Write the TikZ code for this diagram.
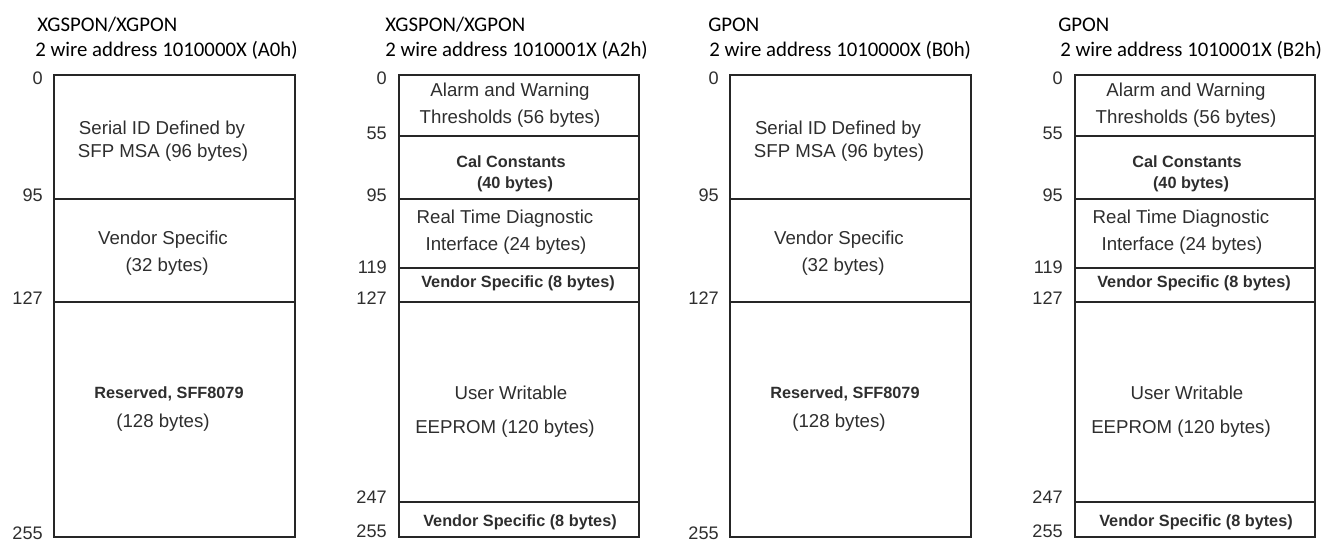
\documentclass[tikz,border=0pt]{standalone}
\usepackage{fontspec}
\setmainfont{Liberation Sans}
\newfontfamily\titlefont{Carlito}
\usepackage{tikz}

\tikzset{
  mapbox/.style={draw=black!85,line width=1.4pt},
  field/.style={inner sep=0pt,text=black!82,text height=0.72em,text depth=0pt,
    yshift=-1.5pt,font=\fontsize{14}{16}\selectfont},
  boldfield/.style={field,font=\bfseries\fontsize{12.2}{14}\selectfont},
  offset/.style={anchor=east,inner sep=0pt,text=black!82,text height=0.72em,
    text depth=0pt,yshift=-1.5pt,font=\fontsize{13.6}{15}\selectfont},
  heading/.style={anchor=base west,inner sep=0pt,text=black,
    font=\titlefont\fontsize{15.6}{17}\selectfont},
}

\begin{document}
\begin{tikzpicture}[x=0.75pt,y=-0.75pt]
  \useasboundingbox (0,0) rectangle (1343,541);
  \node[heading] (t1a) at (37,32) {XGSPON/XGPON};
  \node[heading] (t1b) at (35,57) {2 wire address 1010000X (A0h)};
  \node[heading] (t2a) at (385,32) {XGSPON/XGPON};
  \node[heading] (t2b) at (385,57) {2 wire address 1010001X (A2h)};
  \node[heading] (t3a) at (708,32) {GPON};
  \node[heading] (t3b) at (709,57) {2 wire address 1010000X (B0h)};
  \node[heading] (t4a) at (1058,32) {GPON};
  \node[heading] (t4b) at (1060,57) {2 wire address 1010001X (B2h)};
  % serial ID maps
  \foreach \x/\p in {54/a0,730/b0}{
    \draw[mapbox] (\x,75) rectangle (\x+241,537);
    \foreach \y in {199,302}
      \draw[mapbox] (\x,\y) -- (\x+241,\y);
    \node[field] (\p serial) at (\x+108,128) {Serial ID Defined by};
    \node[field] (\p msa) at (\x+109,151) {SFP MSA (96 bytes)};
    \node[field] (\p vendor) at (\x+109,238) {Vendor Specific};
    \node[field] (\p vendorsize) at (\x+113,265) {(32 bytes)};
    \node[boldfield] (\p reserved) at (\x+115,392) {Reserved, SFF8079};
    \node[field] (\p reservedsize) at (\x+109,421) {(128 bytes)};
    \foreach \v/\y in {0/78,95/195,127/298,255/533}
      \node[offset] (\p off\v) at (\x-11,\y) {\v};
  }
  % diagnostic maps
  \foreach \x/\p in {399/a2,1075/b2}{
    \draw[mapbox] (\x,75) rectangle (\x+240,537);
    \foreach \y in {136,199,268,302,502}
      \draw[mapbox] (\x,\y) -- (\x+240,\y);
    \node[field] (\p alarm) at (\x+111,90) {Alarm and Warning};
    \node[field] (\p thresh) at (\x+111,117) {Thresholds (56 bytes)};
    \node[boldfield] (\p cal) at (\x+112,161) {Cal Constants};
    \node[boldfield] (\p calsize) at (\x+116,182) {(40 bytes)};
    \node[field] (\p realtime) at (\x+106,217) {Real Time Diagnostic};
    \node[field] (\p iface) at (\x+107,244) {Interface (24 bytes)};
    \node[boldfield] (\p vendor) at (\x+119,281) {Vendor Specific (8 bytes)};
    \node[field] (\p user) at (\x+112,393) {User Writable};
    \node[field] (\p eeprom) at (\x+106,427) {EEPROM (120 bytes)};
    \node[boldfield] (\p vendorend) at (\x+121,520) {Vendor Specific (8 bytes)};
    \foreach \v/\y in {0/78,55/133,95/195,119/267,127/298,247/497,255/531}
      \node[offset] (\p off\v) at (\x-12,\y) {\v};
  }
\end{tikzpicture}
\end{document}
